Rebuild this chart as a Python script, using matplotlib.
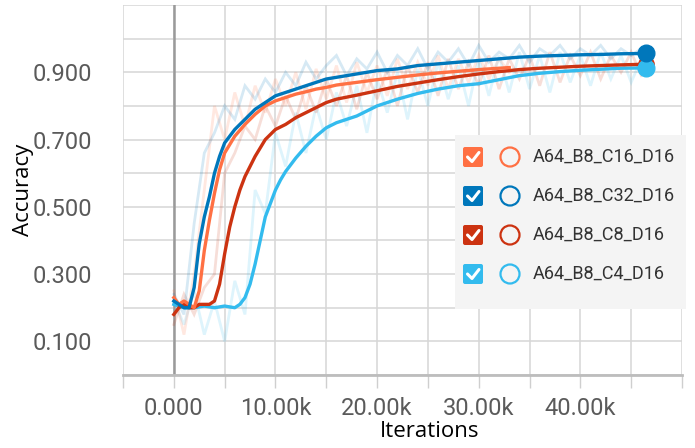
"""
TensorBoard-style accuracy curves for four channel settings.
"""
import matplotlib.pyplot as plt
from matplotlib.patches import FancyBboxPatch, Circle, Rectangle
from matplotlib.ticker import MultipleLocator, FixedLocator, FuncFormatter

ORANGE = "#ff7043"
DARK_BLUE = "#0077bb"
RED = "#cc3311"
LIGHT_BLUE = "#33bbee"
GRID = "#d6d6d6"
TICK_TXT = "#5a5a5a"

# smoothed curves (iterations in thousands)
c16_k = [0, 0.5, 1, 1.5, 2, 2.5, 3, 3.5, 4, 4.5, 5, 6, 7, 8, 9, 10, 11, 12, 13, 14,
         15, 16, 18, 20, 22, 24, 26, 28, 30, 32, 33]
c16_acc = [0.23, 0.21, 0.22, 0.21, 0.20, 0.25, 0.37, 0.46, 0.54, 0.61, 0.66, 0.71, 0.745,
           0.775, 0.80, 0.815, 0.825, 0.835, 0.842, 0.85, 0.855, 0.862, 0.87, 0.878,
           0.885, 0.892, 0.898, 0.903, 0.908, 0.912, 0.914]

c32_k = [0, 0.5, 1, 1.5, 2, 2.5, 3, 3.5, 4, 4.5, 5, 6, 7, 8, 9, 10, 11, 12, 13, 14, 15,
         16, 18, 20, 22, 24, 26, 28, 30, 32, 34, 36, 38, 40, 42, 44, 46.5]
c32_acc = [0.22, 0.21, 0.20, 0.20, 0.26, 0.39, 0.47, 0.53, 0.60, 0.65, 0.69, 0.73, 0.76,
           0.79, 0.81, 0.83, 0.84, 0.85, 0.86, 0.87, 0.88, 0.885, 0.895, 0.905, 0.91,
           0.92, 0.925, 0.93, 0.935, 0.94, 0.945, 0.948, 0.95, 0.952, 0.953, 0.955, 0.956]

c8_k = [0, 0.5, 1, 1.5, 2, 2.5, 3, 3.5, 4, 4.5, 5, 5.5, 6, 6.5, 7, 7.5, 8, 9, 10, 11, 12,
        13, 14, 15, 16, 18, 20, 22, 24, 26, 28, 30, 32, 34, 36, 38, 40, 42, 44, 46.5]
c8_acc = [0.18, 0.20, 0.21, 0.20, 0.20, 0.21, 0.21, 0.21, 0.22, 0.27, 0.36, 0.44, 0.50,
          0.55, 0.59, 0.62, 0.65, 0.70, 0.73, 0.745, 0.765, 0.78, 0.795, 0.81, 0.82,
          0.832, 0.845, 0.858, 0.868, 0.878, 0.887, 0.895, 0.902, 0.908, 0.912, 0.915,
          0.918, 0.92, 0.922, 0.924]

c4_k = [0, 1, 2, 3, 4, 5, 6, 6.5, 7, 7.5, 8, 8.5, 9, 9.5, 10, 10.5, 11, 12, 13, 14, 15,
        16, 17, 18, 19, 20, 22, 24, 26, 28, 30, 32, 34, 36, 38, 40, 42, 44, 46.5]
c4_acc = [0.21, 0.20, 0.20, 0.205, 0.20, 0.205, 0.20, 0.21, 0.23, 0.27, 0.33, 0.40, 0.47,
          0.51, 0.55, 0.58, 0.605, 0.645, 0.68, 0.71, 0.735, 0.75, 0.76, 0.77, 0.785,
          0.80, 0.82, 0.837, 0.85, 0.86, 0.866, 0.878, 0.89, 0.897, 0.902, 0.906, 0.909,
          0.912, 0.913]

# raw (unsmoothed) values, one every 1k iterations
raw16 = [0.25, 0.12, 0.30, 0.55, 0.80, 0.70, 0.84, 0.74, 0.86, 0.78, 0.88, 0.80, 0.90,
         0.79, 0.91, 0.82, 0.92, 0.81, 0.93, 0.84, 0.92, 0.83, 0.94, 0.85, 0.93, 0.86,
         0.95, 0.85, 0.94, 0.87, 0.95, 0.88, 0.94, 0.90]
raw32 = [0.24, 0.18, 0.45, 0.66, 0.72, 0.80, 0.76, 0.86, 0.82, 0.88, 0.84, 0.90, 0.86,
         0.93, 0.88, 0.92, 0.95, 0.89, 0.94, 0.91, 0.96, 0.90, 0.95, 0.92, 0.97, 0.91,
         0.96, 0.93, 0.97, 0.92, 0.98, 0.93, 0.96, 0.94, 0.98, 0.93, 0.97, 0.95, 0.98,
         0.94, 0.97, 0.95, 0.98, 0.94, 0.97, 0.95, 0.97]
raw8 = [0.15, 0.24, 0.18, 0.26, 0.30, 0.60, 0.66, 0.74, 0.70, 0.80, 0.74, 0.83, 0.76,
        0.86, 0.78, 0.88, 0.80, 0.89, 0.79, 0.90, 0.82, 0.91, 0.80, 0.92, 0.84, 0.93,
        0.83, 0.94, 0.85, 0.93, 0.86, 0.95, 0.85, 0.94, 0.88, 0.95, 0.86, 0.96, 0.87,
        0.95, 0.89, 0.96, 0.88, 0.95, 0.90, 0.96, 0.89]
raw4 = [0.22, 0.15, 0.25, 0.12, 0.22, 0.10, 0.28, 0.18, 0.55, 0.48, 0.72, 0.62, 0.78,
        0.66, 0.80, 0.70, 0.84, 0.74, 0.86, 0.72, 0.88, 0.78, 0.90, 0.76, 0.91, 0.80,
        0.93, 0.82, 0.92, 0.80, 0.94, 0.83, 0.95, 0.84, 0.96, 0.85, 0.95, 0.84, 0.96,
        0.87, 0.95, 0.86, 0.96, 0.88, 0.95, 0.87, 0.94]

run_names = ["A64_B8_C16_D16", "A64_B8_C32_D16", "A64_B8_C8_D16", "A64_B8_C4_D16"]
run_colors = [ORANGE, DARK_BLUE, RED, LIGHT_BLUE]

y_labels = [0.1, 0.3, 0.5, 0.7, 0.9]

W, H = 695, 448
fig = plt.figure(figsize=(W / 100, H / 100), dpi=100)
ax = fig.add_axes([123 / W, 1 - 375 / H, (682 - 123) / W, 370 / H])

# raw curves, faint
for raw, col in [(raw4, LIGHT_BLUE), (raw8, RED), (raw16, ORANGE), (raw32, DARK_BLUE)]:
    ax.plot([i * 1000 for i in range(len(raw))], raw, color=col, lw=2.0, alpha=0.16,
            solid_joinstyle="miter")

# smoothed curves
for k, acc, col in [(c4_k, c4_acc, LIGHT_BLUE), (c8_k, c8_acc, RED),
                    (c16_k, c16_acc, ORANGE), (c32_k, c32_acc, DARK_BLUE)]:
    ax.plot([v * 1000 for v in k], acc, color=col, lw=2.4)

# end markers
ax.plot(c8_k[-1] * 1000, c8_acc[-1], "o", color=RED, ms=11)
ax.plot(c4_k[-1] * 1000, c4_acc[-1], "o", color=LIGHT_BLUE, ms=12)
ax.plot(c32_k[-1] * 1000, c32_acc[-1], "o", color=DARK_BLUE, ms=12)

ax.set_xlim(-5000, 50000)
ax.set_ylim(0, 1.1)

ax.xaxis.set_major_locator(MultipleLocator(5000))
def fmt_x(v, pos):
    if v == 0:
        return "0.000"
    if v % 10000 == 0 and 0 < v <= 40000:
        return f"{v / 1000:.2f}k"
    return ""
ax.xaxis.set_major_formatter(FuncFormatter(fmt_x))
ax.yaxis.set_major_locator(FixedLocator(y_labels))
ax.yaxis.set_minor_locator(MultipleLocator(0.1))
ax.yaxis.set_major_formatter(FuncFormatter(lambda v, p: f"{v:.3f}"))

ax.grid(True, which="both", color=GRID, lw=1.1)
ax.set_axisbelow(True)
for s in ["top", "right", "left"]:
    ax.spines[s].set_visible(False)
ax.spines["bottom"].set_color("#bdbdbd")
ax.spines["bottom"].set_linewidth(2)
ax.axvline(0, color="#9a9a9a", lw=1.8, zorder=1)

ax.tick_params(axis="x", length=9, width=1, color="#cfcfcf", pad=7,
               labelsize=17, labelcolor=TICK_TXT)
ax.tick_params(axis="y", which="both", length=0, pad=22, labelsize=17,
               labelcolor=TICK_TXT)
for lab in ax.get_xticklabels() + ax.get_yticklabels():
    lab.set_family("Roboto")

ax.set_xlabel("Iterations", family="Open Sans", fontsize=16, color="black")
ax.set_ylabel("Accuracy", family="Open Sans", fontsize=16, color="black")
ax.xaxis.set_label_coords((430 - 123) / 559, (375 - 421) / 370)
ax.yaxis.set_label_coords((34 - 123) / 559, (375 - 190) / 370)

# legend panel in pixel coordinates
lx0, lx1, ly0, ly1 = 455, 686, 135, 309
lg = fig.add_axes([lx0 / W, 1 - ly1 / H, (lx1 - lx0) / W, (ly1 - ly0) / H])
lg.set_xlim(lx0, lx1)
lg.set_ylim(ly1, ly0)
lg.axis("off")
lg.add_patch(Rectangle((lx0, ly0), lx1 - lx0, ly1 - ly0, color="#f4f4f4", zorder=0))
row_y = [157, 196, 235, 274]
for name, col, yy in zip(run_names, run_colors, row_y):
    lg.add_patch(FancyBboxPatch((463, yy - 10), 20, 20,
                                boxstyle="round,pad=0,rounding_size=2",
                                fc=col, ec="none"))
    lg.plot([467.5, 472, 479], [yy, yy + 4.5, yy - 4.5], color="white", lw=2.2,
            solid_capstyle="round")
    lg.add_patch(Circle((510, yy), 9.5, fc="none", ec=col, lw=1.6))
    lg.text(533, yy, name, family="Roboto", fontsize=13, color="#333333",
            va="center", ha="left")

fig.savefig("out.png", dpi=100)
